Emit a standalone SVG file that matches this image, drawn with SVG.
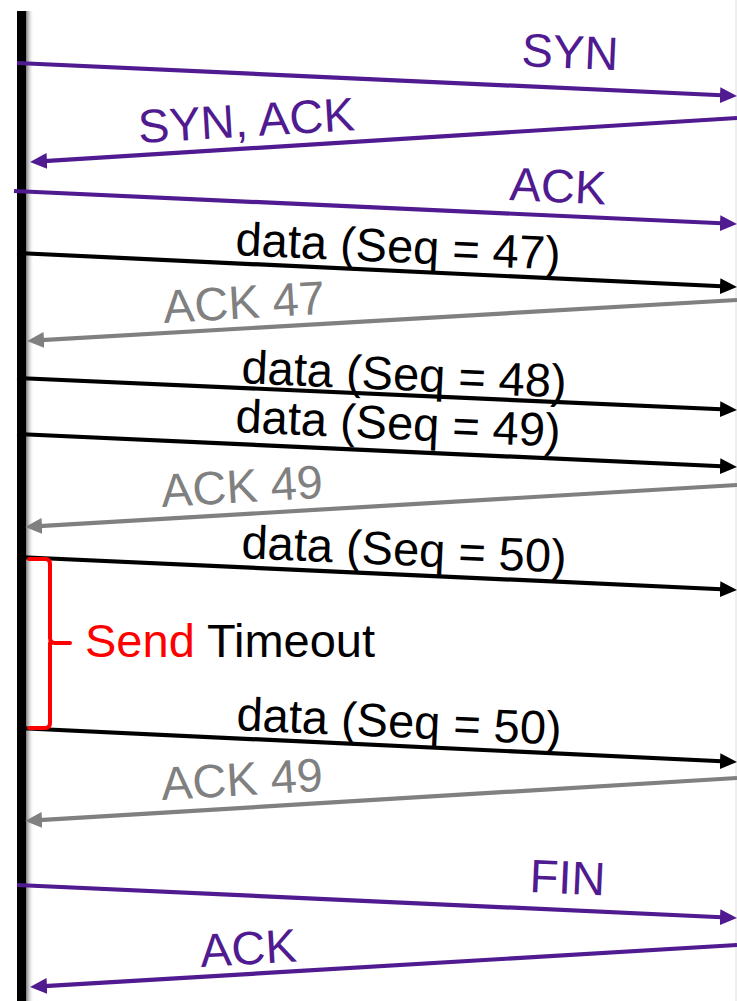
<svg xmlns="http://www.w3.org/2000/svg" width="737" height="1001" viewBox="0 0 737 1001">
  <style>
    text { font-family: "Liberation Sans", Arial, sans-serif; font-size: 47px; }
    .msg { stroke-width: 4.2; fill: none; stroke-linecap: butt; }
    .ctl { stroke: #501A90; }
    .dat { stroke: #000000; }
    .ack { stroke: #808080; }
    .t-ctl { fill: #501A90; }
    .t-dat { fill: #000000; }
    .t-ack { fill: #808080; }
  </style>
  <defs>
    <linearGradient id="shadow" x1="0" y1="0" x2="1" y2="0">
      <stop offset="0" stop-color="#7a7a7a"/>
      <stop offset="1" stop-color="#ffffff" stop-opacity="0"/>
    </linearGradient>
    <marker id="head-ctl" markerUnits="userSpaceOnUse" markerWidth="18" markerHeight="16" refX="7" refY="8" orient="auto">
      <path d="M0,0 L17,8 L0,16 z" fill="#501A90"/>
    </marker>
    <marker id="head-dat" markerUnits="userSpaceOnUse" markerWidth="18" markerHeight="16" refX="7" refY="8" orient="auto">
      <path d="M0,0 L17,8 L0,16 z" fill="#000000"/>
    </marker>
    <marker id="head-ack" markerUnits="userSpaceOnUse" markerWidth="18" markerHeight="16" refX="7" refY="8" orient="auto">
      <path d="M0,0 L17,8 L0,16 z" fill="#808080"/>
    </marker>
  </defs>

  <rect width="737" height="1001" fill="#ffffff"/>

  <!-- client timeline -->
  <g id="client">
    <rect x="26" y="11" width="8" height="990" fill="url(#shadow)"/>
    <rect x="17" y="11" width="9" height="990" fill="#000000"/>
  </g>

  <!-- server timeline edge -->
  <g id="server">
    <rect x="735" y="0" width="2" height="1001" fill="#eeeeee"/>
  </g>

  <!-- message arrows -->
  <g id="connectors">
    <line class="msg ctl" x1="17" y1="63" x2="727" y2="95.5" marker-end="url(#head-ctl)"/>
    <line class="msg ctl" x1="737" y1="118" x2="40" y2="161.4" marker-end="url(#head-ctl)"/>
    <line class="msg ctl" x1="14" y1="191" x2="727" y2="223.5" marker-end="url(#head-ctl)"/>
    <line class="msg dat" x1="17" y1="253" x2="727" y2="286.5" marker-end="url(#head-dat)"/>
    <line class="msg ack" x1="737" y1="300" x2="37" y2="340.4" marker-end="url(#head-ack)"/>
    <line class="msg dat" x1="17" y1="378" x2="727" y2="409.5" marker-end="url(#head-dat)"/>
    <line class="msg dat" x1="17" y1="434" x2="727" y2="466.5" marker-end="url(#head-dat)"/>
    <line class="msg ack" x1="737" y1="485" x2="35" y2="526.4" marker-end="url(#head-ack)"/>
    <line class="msg dat" x1="17" y1="557" x2="727" y2="589.5" marker-end="url(#head-dat)"/>
    <line class="msg dat" x1="17" y1="728" x2="727" y2="761.5" marker-end="url(#head-dat)"/>
    <line class="msg ack" x1="737" y1="778" x2="35" y2="820.4" marker-end="url(#head-ack)"/>
    <line class="msg ctl" x1="17" y1="885" x2="727" y2="917.5" marker-end="url(#head-ctl)"/>
    <line class="msg ctl" x1="737" y1="945" x2="40" y2="986.4" marker-end="url(#head-ctl)"/>
  </g>

  <!-- message labels -->
  <g id="labels">
    <text class="t-ctl" x="521" y="66" transform="rotate(2.6 521 66)">SYN</text>
    <text class="t-ctl" x="139" y="143" transform="rotate(-3.4 139 143)">SYN, ACK</text>
    <text class="t-ctl" x="509" y="200" transform="rotate(2.6 509 200)">ACK</text>
    <text class="t-dat" x="235" y="255" transform="rotate(2.6 235 255)">data (Seq = 47)</text>
    <text class="t-ack" x="164" y="323" transform="rotate(-3.3 164 323)">ACK 47</text>
    <text class="t-dat" x="241" y="383" transform="rotate(2.6 241 383)">data (Seq = 48)</text>
    <text class="t-dat" x="235" y="432" transform="rotate(2.6 235 432)">data (Seq = 49)</text>
    <text class="t-ack" x="162" y="507" transform="rotate(-3.3 162 507)">ACK 49</text>
    <text class="t-dat" x="241" y="558" transform="rotate(2.6 241 558)">data (Seq = 50)</text>
    <text class="t-dat" x="236" y="730" transform="rotate(2.6 236 730)">data (Seq = 50)</text>
    <text class="t-ack" x="162" y="800" transform="rotate(-3.3 162 800)">ACK 49</text>
    <text class="t-ctl" x="529" y="892" transform="rotate(2.6 529 892)">FIN</text>
    <text class="t-ctl" x="201" y="967" transform="rotate(-3.3 201 967)">ACK</text>
  </g>

  <!-- send timeout brace -->
  <g id="timeout">
    <path d="M29,559 L45,559 Q50,559 50,564 L50,638 Q50,643 55,643 L70,643 M50,643 L50,723 Q50,728 45,728 L29,728" fill="none" stroke="#FF0000" stroke-width="4" stroke-linecap="round" stroke-linejoin="round"/>
    <text x="85" y="657"><tspan fill="#FF0000">Send</tspan><tspan fill="#000000"> Timeout</tspan></text>
  </g>
</svg>
